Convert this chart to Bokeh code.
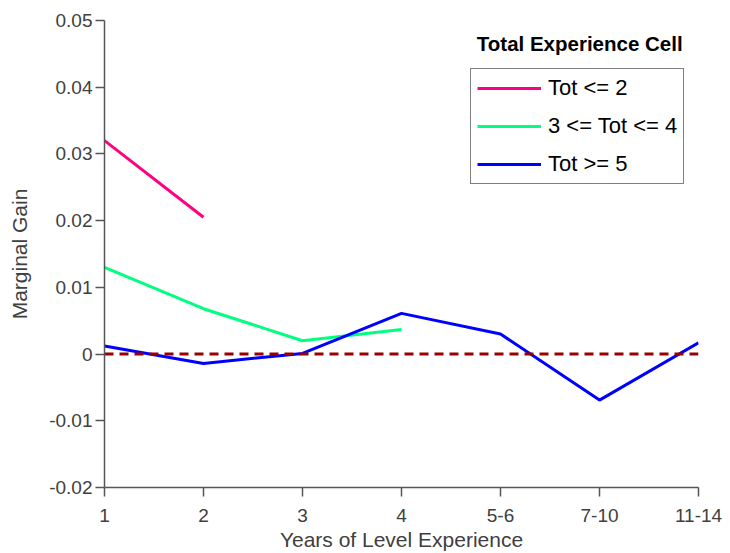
from bokeh.plotting import figure
from bokeh.models import FixedTicker, Legend, LegendItem, Label
from bokeh.embed import file_html
from bokeh.resources import INLINE

# ---- data ----
x_labels = ["1", "2", "3", "4", "5-6", "7-10", "11-14"]
x_pos = [1, 2, 3, 4, 5, 6, 7]

tot_le2_x = [1, 2]
tot_le2_y = [0.0320, 0.0205]

tot_3_4_x = [1, 2, 3, 4]
tot_3_4_y = [0.0130, 0.0068, 0.0020, 0.0037]

tot_ge5_x = [1, 2, 3, 4, 5, 6, 7]
tot_ge5_y = [0.0012, -0.0014, 0.0001, 0.0061, 0.0030, -0.0069, 0.0017]

zero_x = [1, 7]
zero_y = [0.0, 0.0]

y_ticks = [-0.02, -0.01, 0.0, 0.01, 0.02, 0.03, 0.04, 0.05]
y_tick_labels = ["-0.02", "-0.01", "0", "0.01", "0.02", "0.03", "0.04", "0.05"]

series_names = ["Tot <= 2", "3 <= Tot <= 4", "Tot >= 5"]
series_colors = ["#FF0080", "#00FF80", "#0000FF"]

FONT = "Liberation Sans"
TXT = "#404040"
TICK_FS = "19px"
TITLE_FS = "21px"

p = figure(width=722, height=553, x_range=(1, 7), y_range=(-0.02, 0.05),
           output_backend="svg", toolbar_location=None,
           min_border_left=104, min_border_right=24, min_border_top=20, min_border_bottom=66)
p.outline_line_color = None
p.xgrid.grid_line_color = None
p.ygrid.grid_line_color = None
p.background_fill_color = "white"

r1 = p.line(tot_le2_x, tot_le2_y, line_width=3, color=series_colors[0])
r2 = p.line(tot_3_4_x, tot_3_4_y, line_width=3, color=series_colors[1])
r3 = p.line(tot_ge5_x, tot_ge5_y, line_width=3, color=series_colors[2])
p.line(zero_x, zero_y, line_width=3, color="#990000", line_dash="9 6")

for ax in (p.xaxis[0], p.yaxis[0]):
    ax.axis_line_color = "#555555"
    ax.axis_line_width = 1.5
    ax.major_tick_line_color = "#555555"
    ax.major_tick_line_width = 1.5
    ax.major_tick_out = 9
    ax.major_tick_in = 0
    ax.minor_tick_line_color = None
    ax.major_label_text_font = FONT
    ax.major_label_text_font_size = TICK_FS
    ax.major_label_text_color = TXT
    ax.axis_label_text_font = FONT
    ax.axis_label_text_font_size = TITLE_FS
    ax.axis_label_text_font_style = "normal"
    ax.axis_label_text_color = TXT

p.xaxis.ticker = FixedTicker(ticks=x_pos)
p.xaxis.major_label_overrides = {k: v for k, v in zip(x_pos, x_labels)}
p.xaxis.axis_label = "Years of Level Experience"
p.xaxis.major_label_standoff = 12
p.xaxis.axis_label_standoff = 3

p.yaxis.ticker = FixedTicker(ticks=y_ticks)
p.yaxis.major_label_overrides = {k: v for k, v in zip(y_ticks, y_tick_labels)}
p.yaxis.axis_label = "Marginal Gain"
p.yaxis.major_label_standoff = 3
p.yaxis.axis_label_standoff = 15

legend = Legend(items=[LegendItem(label=n, renderers=[r]) for n, r in zip(series_names, [r1, r2, r3])],
                location=(366, 303), margin=0, padding=6, spacing=12,
                glyph_width=64, glyph_height=22, label_height=22, label_standoff=7,
                label_text_font=FONT, label_text_font_size="22px", label_text_color="black",
                border_line_color="black", border_line_width=1.5, background_fill_alpha=1.0)
p.add_layout(legend, "center")

title = Label(x=5.80, y=0.04655, text="Total Experience Cell", text_font=FONT,
              text_font_size="20.5px", text_font_style="bold", text_align="center",
              text_baseline="middle", text_color="black")
p.add_layout(title)

open("out.html", "w").write(file_html(p, INLINE))
